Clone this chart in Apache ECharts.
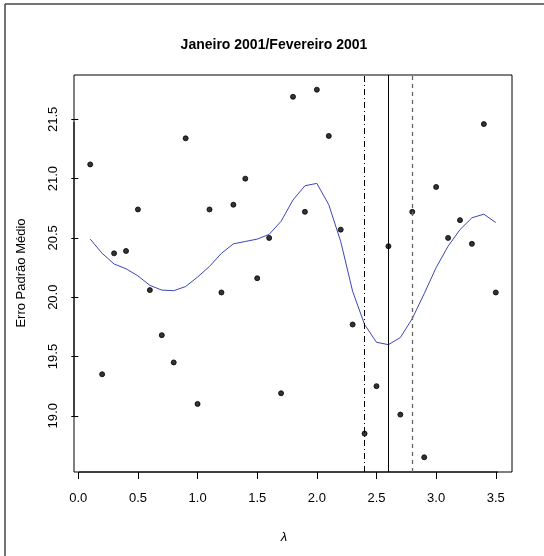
<!DOCTYPE html>
<html>
<head>
<meta charset="utf-8">
<script src="https://cdn.jsdelivr.net/npm/echarts@6/dist/echarts.min.js"></script>
<style>html,body{margin:0;padding:0;background:#fff;}#c{width:544px;height:556px;}</style>
</head>
<body>
<div id="c"></div>
<script>
var lambdas = [0.1,0.2,0.3,0.4,0.5,0.6,0.7,0.8,0.9,1.0,1.1,1.2,1.3,1.4,1.5,1.6,1.7,1.8,1.9,2.0,2.1,2.2,2.3,2.4,2.5,2.6,2.7,2.8,2.9,3.0,3.1,3.2,3.3,3.4,3.5];
var pointValues = [21.12,19.35,20.37,20.39,20.74,20.06,19.68,19.45,21.34,19.10,20.74,20.04,20.78,21.00,20.16,20.50,19.19,21.69,20.72,21.75,21.36,20.57,19.77,18.85,19.25,20.43,19.01,20.72,18.65,20.93,20.50,20.65,20.45,21.46,20.04];
var smoothValues = [20.49,20.37,20.28,20.24,20.18,20.10,20.06,20.055,20.09,20.17,20.26,20.37,20.45,20.47,20.49,20.53,20.64,20.82,20.94,20.96,20.78,20.47,20.05,19.77,19.62,19.60,19.66,19.82,20.03,20.25,20.43,20.57,20.67,20.70,20.63];
var xTicks = [0,0.5,1,1.5,2,2.5,3,3.5];
var yTicks = [19,19.5,20,20.5,21,21.5];
var vLines = [2.4,2.6,2.8];
var titleText = 'Janeiro 2001/Fevereiro 2001';
var yTitle = 'Erro Padrão Médio';
var xTitle = 'λ';

var font = 'Liberation Sans, Arial, sans-serif';
var chart = echarts.init(document.getElementById('c'));
var pts = lambdas.map(function(x,i){return [x,pointValues[i]];});
var sm = lambdas.map(function(x,i){return [x,smoothValues[i]];});
function fmt(v){return v.toFixed(1);}
chart.setOption({
  animation:false,
  backgroundColor:'#fff',
  grid:{left:74,top:75,right:32,bottom:84,show:true,borderColor:'#000',borderWidth:1,backgroundColor:'transparent'},
  xAxis:{type:'value',min:-0.036,max:3.636,
    axisLine:{show:false},splitLine:{show:false},
    axisTick:{show:true,length:7,customValues:xTicks,lineStyle:{color:'#000'}},
    axisLabel:{customValues:xTicks,formatter:fmt,color:'#000',fontFamily:font,fontSize:13,margin:20}},
  yAxis:{type:'value',min:18.526,max:21.874,
    axisLine:{show:false},splitLine:{show:false},
    axisTick:{show:true,length:7,customValues:yTicks,lineStyle:{color:'#000'}},
    axisLabel:{customValues:yTicks,formatter:fmt,rotate:90,color:'#000',fontFamily:font,fontSize:13,margin:14}},
  graphic:[
    {type:'line',shape:{x1:5,y1:4,x2:5,y2:556},style:{stroke:'#444',lineWidth:1.5}},
    {type:'line',shape:{x1:5,y1:4,x2:544,y2:4},style:{stroke:'#444',lineWidth:1.5}},
    {type:'line',shape:{x1:79,y1:472,x2:498,y2:472},style:{stroke:'#000',lineWidth:1}},
    {type:'line',shape:{x1:74,y1:122,x2:74,y2:416},style:{stroke:'#000',lineWidth:1}},
    {type:'text',x:274,y:45,style:{text:titleText,font:'bold 14px '+font,fill:'#000',textAlign:'center',textVerticalAlign:'middle'}},
    {type:'text',x:284,y:537,style:{text:xTitle,font:'italic 13px '+font,fill:'#000',textAlign:'center',textVerticalAlign:'middle'}},
    {type:'text',x:21,y:273,rotation:Math.PI/2,style:{text:yTitle,font:'13px '+font,fill:'#000',textAlign:'center',textVerticalAlign:'middle'}}
  ],
  series:[
    {type:'line',data:sm,showSymbol:false,symbol:'none',lineStyle:{color:'#3c46b4',width:1},z:3,
      markLine:{symbol:'none',silent:true,label:{show:false},
        data:[
          {xAxis:vLines[0],lineStyle:{color:'#000',type:[6,3,1,3],width:1}},
          {xAxis:vLines[1],lineStyle:{color:'#000',type:'solid',width:1}},
          {xAxis:vLines[2],lineStyle:{color:'#666',type:[4,4],width:1.3}}
        ]}},
    {type:'scatter',data:pts,symbol:'circle',symbolSize:5,itemStyle:{color:'#000',borderColor:'#000',borderWidth:1},z:4}
  ]
});
</script>
</body>
</html>
